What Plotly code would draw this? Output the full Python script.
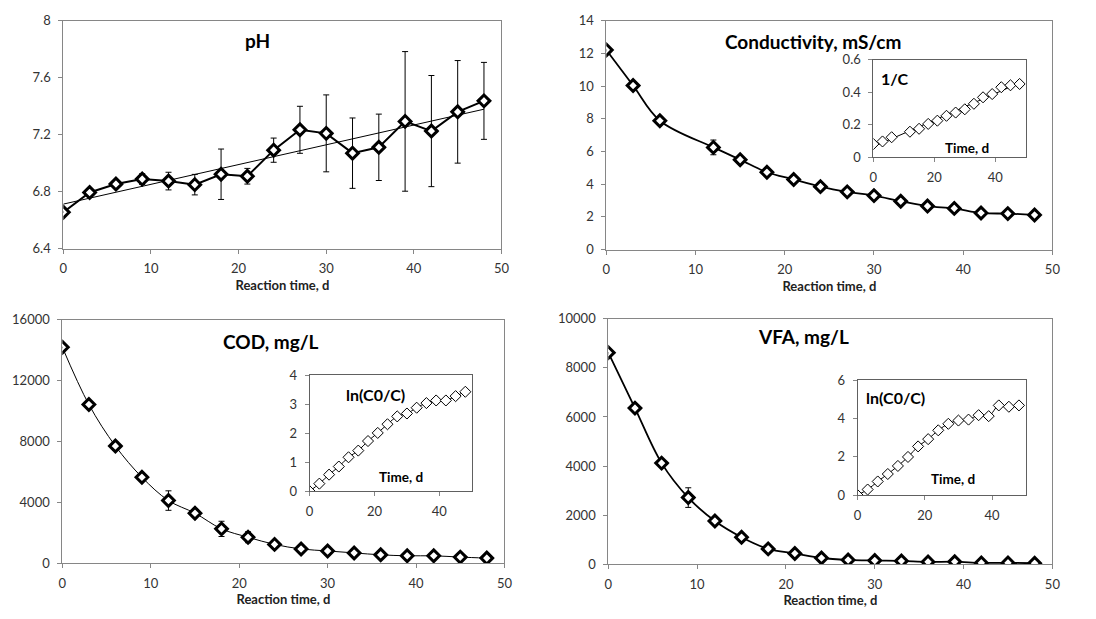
import numpy as np
import plotly.graph_objects as go

FONT = "Lato"
W, H = 1096, 619

# ---------------- data ----------------
t_all = [0, 3, 6, 9, 12, 15, 18, 21, 24, 27, 30, 33, 36, 39, 42, 45, 48]

ph_vals = [6.655, 6.794, 6.853, 6.888, 6.874, 6.849, 6.922, 6.908, 7.091, 7.234,
           7.209, 7.070, 7.111, 7.293, 7.225, 7.360, 7.437]
ph_err = [0.0, 0.0, 0.0, 0.038, 0.062, 0.072, 0.177, 0.055, 0.085, 0.165,
          0.27, 0.247, 0.233, 0.49, 0.39, 0.36, 0.27]

t_cond = [0, 3, 6, 12, 15, 18, 21, 24, 27, 30, 33, 36, 39, 42, 45, 48]
cond_vals = [12.21, 10.03, 7.88, 6.25, 5.50, 4.73, 4.29, 3.85, 3.53, 3.30,
             2.96, 2.66, 2.52, 2.24, 2.20, 2.12]
cond_err = [0, 0, 0, 0.45, 0, 0, 0, 0, 0, 0, 0, 0, 0, 0, 0, 0]
inv_cond = [0.080, 0.096, 0.122, 0.156, 0.174, 0.204, 0.224, 0.254, 0.274, 0.294,
            0.328, 0.368, 0.388, 0.430, 0.442, 0.450]

cod_vals = [14190, 10430, 7700, 5650, 4120, 3290, 2260, 1710, 1240, 940,
            810, 680, 555, 490, 490, 405, 340]
cod_err = [0, 0, 280, 0, 640, 0, 500, 360, 0, 250, 250, 0, 0, 0, 0, 0, 0]
cod_ln = [0.0, 0.26, 0.57, 0.85, 1.17, 1.40, 1.73, 2.01, 2.31, 2.58,
          2.68, 2.88, 3.04, 3.13, 3.13, 3.28, 3.43]

vfa_vals = [8620, 6360, 4120, 2715, 1760, 1100, 625, 440, 255, 175,
            150, 135, 95, 105, 55, 55, 40]
vfa_err = [0, 0, 0, 400, 0, 0, 0, 0, 0, 0, 0, 0, 0, 0, 0, 0, 0]
vfa_ln = [0.0, 0.29, 0.71, 1.10, 1.52, 1.99, 2.54, 2.92, 3.38, 3.72,
          3.89, 3.94, 4.17, 4.12, 4.68, 4.61, 4.68]

x_ticks_main = [0, 10, 20, 30, 40, 50]
x_ticks_inset = [0, 20, 40]

# ---------------- helpers ----------------
def fx(px):
    return px / W

def fy(py):
    return 1 - py / H

fig = go.Figure()

main_marker = dict(symbol="diamond", size=9, color="white",
                   line=dict(color="black", width=3))
inset_marker = dict(symbol="diamond", size=8.5, color="white",
                    line=dict(color="black", width=1))


def err(arr):
    return dict(type="data", array=arr, visible=True, color="black",
                thickness=1, width=3)

# Panel 1: pH
fit = np.polyfit(t_all, ph_vals, 1)
fig.add_trace(go.Scatter(x=t_all, y=np.polyval(fit, t_all), mode="lines",
                         line=dict(color="black", width=1), xaxis="x", yaxis="y"))
fig.add_trace(go.Scatter(x=t_all, y=ph_vals, mode="lines+markers",
                         line=dict(color="black", width=2), marker=main_marker,
                         error_y=err(ph_err), xaxis="x", yaxis="y"))

# Panel 2: Conductivity
fig.add_trace(go.Scatter(x=t_cond, y=cond_vals, mode="lines+markers",
                         line=dict(color="black", width=1.8, shape="spline"),
                         marker=main_marker, error_y=err(cond_err),
                         xaxis="x2", yaxis="y2"))
fit2 = np.polyfit(t_cond, inv_cond, 1)
fig.add_trace(go.Scatter(x=t_cond, y=np.polyval(fit2, t_cond), mode="lines",
                         line=dict(color="black", width=1), xaxis="x3", yaxis="y3"))
fig.add_trace(go.Scatter(x=t_cond, y=inv_cond, mode="markers",
                         marker=inset_marker, xaxis="x3", yaxis="y3"))

# Panel 3: COD
fig.add_trace(go.Scatter(x=t_all, y=cod_vals, mode="lines+markers",
                         line=dict(color="black", width=1, shape="spline"),
                         marker=main_marker, error_y=err(cod_err),
                         xaxis="x4", yaxis="y4"))
fig.add_trace(go.Scatter(x=t_all, y=cod_ln, mode="lines+markers",
                         line=dict(color="black", width=1, shape="spline"),
                         marker=inset_marker, xaxis="x5", yaxis="y5"))

# Panel 4: VFA
fig.add_trace(go.Scatter(x=t_all, y=vfa_vals, mode="lines+markers",
                         line=dict(color="black", width=1.8, shape="spline"),
                         marker=main_marker, error_y=err(vfa_err),
                         xaxis="x6", yaxis="y6"))
fig.add_trace(go.Scatter(x=t_all, y=vfa_ln, mode="lines+markers",
                         line=dict(color="black", width=1, shape="spline"),
                         marker=inset_marker, xaxis="x7", yaxis="y7"))

tickfont = dict(family=FONT, size=13, color="#333333")


def xaxis(dom, anchor, inset=False, title=True):
    d = dict(domain=[fx(dom[0]), fx(dom[1])], anchor=anchor, range=[0, 50],
             tickvals=x_ticks_inset if inset else x_ticks_main,
             showline=True, mirror=True,
             linecolor="#606060" if inset else "#868686", linewidth=1,
             ticks="outside", ticklen=4, tickcolor="#868686",
             ticklabelstandoff=4,
             showgrid=False, zeroline=False, tickfont=tickfont)
    if title:
        d["title"] = dict(text="<b>Reaction time, d</b>",
                          font=dict(family=FONT, size=13, color="#222222"),
                          standoff=5)
    return d


def yaxis(dom, anchor, rng, dtick, inset=False):
    return dict(domain=[fy(dom[1]), fy(dom[0])], anchor=anchor, range=rng,
                dtick=dtick, tick0=rng[0], tickformat="~r" if dtick < 1 else "d",
                showline=True, mirror=True,
                linecolor="#606060" if inset else "#868686", linewidth=1,
                ticks="outside", ticklen=4, tickcolor="#868686",
                ticklabelstandoff=5,
                showgrid=False, zeroline=False, tickfont=tickfont)


fig.update_layout(
    width=W, height=H,
    margin=dict(l=0, r=0, t=0, b=0),
    paper_bgcolor="white", plot_bgcolor="white",
    showlegend=False,
    font=dict(family=FONT),
    xaxis=xaxis((60, 503), "y"),
    yaxis=yaxis((13, 247), "x", [6.4, 8], 0.4),
    xaxis2=xaxis((609, 1060), "y2"),
    yaxis2=yaxis((13, 248), "x2", [0, 14], 2),
    xaxis3=xaxis((879, 1033), "y3", inset=True, title=False),
    yaxis3=yaxis((53, 153), "x3", [0, 0.6], 0.2, inset=True),
    xaxis4=xaxis((59, 506), "y4"),
    yaxis4=yaxis((320, 570), "x4", [0, 16000], 4000),
    xaxis5=xaxis((309, 473), "y5", inset=True, title=False),
    yaxis5=yaxis((377, 496), "x5", [0, 4], 1, inset=True),
    xaxis6=xaxis((611, 1060), "y6"),
    yaxis6=yaxis((319, 571), "x6", [0, 10000], 2000),
    xaxis7=xaxis((863, 1033), "y7", inset=True, title=False),
    yaxis7=yaxis((382, 500), "x7", [0, 6], 2, inset=True),
)


def label(text, px, py, size):
    fig.add_annotation(text="<b>%s</b>" % text, x=fx(px), y=fy(py),
                       xref="paper", yref="paper", showarrow=False,
                       xanchor="center", yanchor="middle",
                       font=dict(family=FONT, size=size, color="black"))

label("pH", 256, 33, 19)
label("Conductivity, mS/cm", 818, 34, 19)
label("COD, mg/L", 270, 342, 19)
label("VFA, mg/L", 808, 337, 19)
label("1/C", 901, 72, 16)
label("Time, d", 974, 144, 13.5)
label("ln(C0/C)", 376, 397, 16)
label("Time, d", 401, 481, 13.5)
label("ln(C0/C)", 901, 400, 16)
label("Time, d", 959, 483, 13.5)

fig.write_html("out.html")
